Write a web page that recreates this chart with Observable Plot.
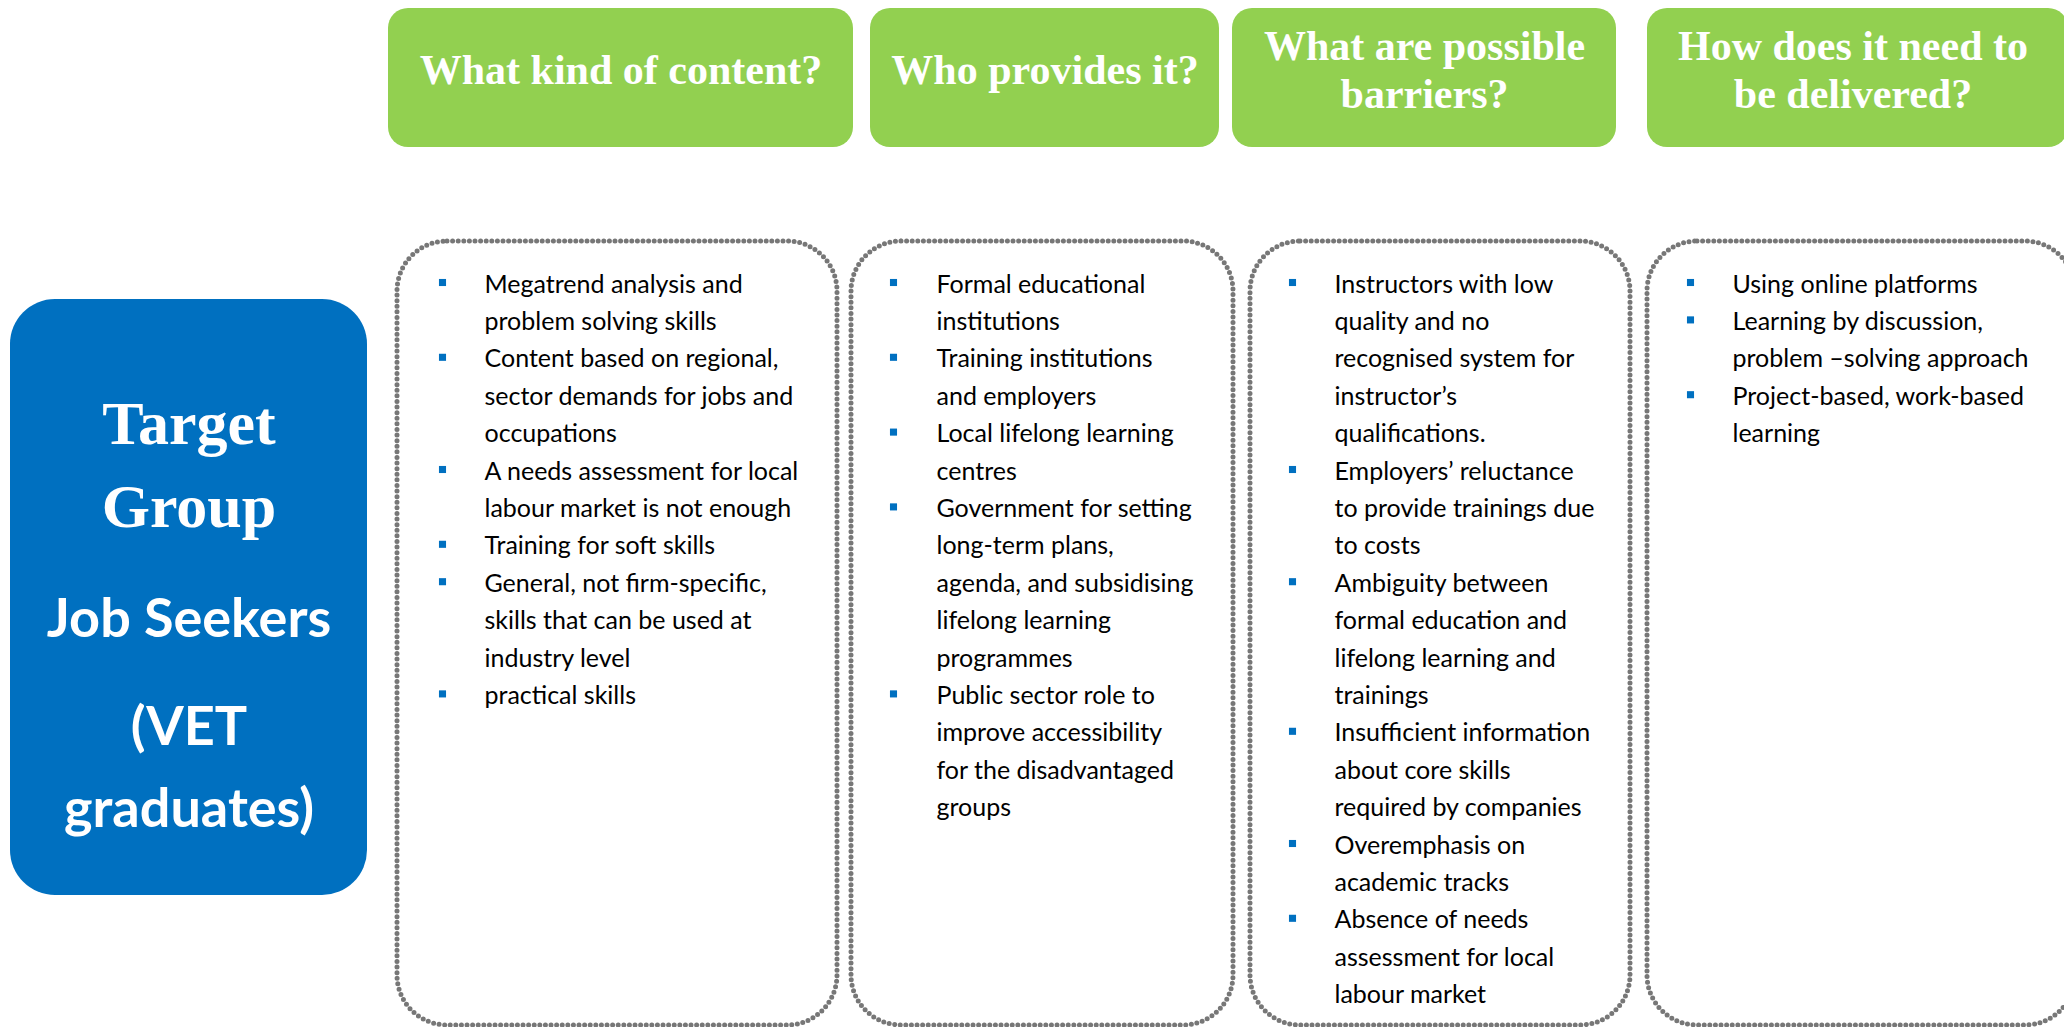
<!DOCTYPE html>
<html>
<head>
<meta charset="utf-8">
<script src="https://cdn.jsdelivr.net/npm/d3@7"></script>
<script src="https://cdn.jsdelivr.net/npm/@observablehq/plot@0.6"></script>
<style>
  html, body { margin: 0; padding: 0; background: #fff; overflow: hidden; }
  #chart svg { display: block; }
</style>
</head>
<body>
<div id="chart"></div>
<script>
// ---------- content (data) ----------
const headers = [
  "What kind of content?",
  "Who provides it?",
  "What are possible\nbarriers?",
  "How does it need to\nbe delivered?"
];
const contentItems = [
  "Megatrend analysis and\nproblem solving skills",
  "Content based on regional,\nsector demands for jobs and\noccupations",
  "A needs assessment for local\nlabour market is not enough",
  "Training for soft skills",
  "General, not firm-specific,\nskills that can be used at\nindustry level",
  "practical skills"
];
const providerItems = [
  "Formal educational\ninstitutions",
  "Training institutions\nand employers",
  "Local lifelong learning\ncentres",
  "Government for setting\nlong-term plans,\nagenda, and subsidising\nlifelong learning\nprogrammes",
  "Public sector role to\nimprove accessibility\nfor the disadvantaged\ngroups"
];
const barrierItems = [
  "Instructors with low\nquality and no\nrecognised system for\ninstructor’s\nqualifications.",
  "Employers’ reluctance\nto provide trainings due\nto costs",
  "Ambiguity between\nformal education and\nlifelong learning and\ntrainings",
  "Insufficient information\nabout core skills\nrequired by companies",
  "Overemphasis on\nacademic tracks",
  "Absence of needs\nassessment for local\nlabour market"
];
const deliveryItems = [
  "Using online platforms",
  "Learning by discussion,\nproblem –solving approach",
  "Project-based, work-based\nlearning"
];
const targetTitle = ["Target", "Group"];
const targetGroup = ["Job Seekers", "(VET", "graduates)"];

// ---------- layout ----------
const W = 2064, H = 1027;
const headX1 = [388, 870, 1232, 1647], headX2 = [853, 1219, 1616, 2068];
const headY1 = 8, headY2 = 147;
const colX1 = [397, 851, 1250, 1647], colX2 = [837, 1233, 1630, 2075];
const colY1 = 241, colY2 = 1025;
const bulletOffset = [45, 42, 42, 43], textOffset = [87, 85, 84, 85];
const blue = {x1: 10, x2: 367, y1: 299, y2: 895};
const bodySize = 25, lineGap = 37.4, firstBaseline = 292;
const headSize = 42, headGap = 48;
const titleBaselines = [443, 526];
const groupBaselines = [636, 744, 826];

const columns = [contentItems, providerItems, barrierItems, deliveryItems];

// flatten the bullet lists into text lines
const lineRows = [];
columns.forEach((items, c) => {
  let i = 0;
  items.forEach(item => {
    item.split("\n").forEach((line, j) => {
      lineRows.push({col: c, text: line, idx: i++, first: j === 0});
    });
  });
});
const bulletRows = lineRows.filter(d => d.first);

const headRows = [];
headers.forEach((h, c) => {
  const parts = h.split("\n");
  parts.forEach((p, j) => headRows.push({col: c, text: p, j, n: parts.length}));
});
const headCenter = (headY1 + headY2) / 2;

const BODY_FONT = "Lato, 'Open Sans', sans-serif";
const SERIF = "'Liberation Serif', 'DejaVu Serif', serif";

const chart = Plot.plot({
  width: W,
  height: H,
  margin: 0,
  x: {domain: [0, W], range: [0, W], axis: null},
  y: {domain: [0, H], range: [0, H], axis: null},
  marks: [
    // green header boxes
    Plot.rect(headers, {
      x1: (d, i) => headX1[i], x2: (d, i) => headX2[i],
      y1: () => headY1, y2: () => headY2,
      rx: 20, ry: 20, fill: "#92D050"
    }),
    Plot.text(headRows, {
      x: d => (headX1[d.col] + headX2[d.col]) / 2 + (d.col === 3 ? -5 : 0),
      y: d => headCenter + 6 + (d.j - (d.n - 1) / 2) * headGap,
      text: "text", dy: -0.32 * headSize,
      fontFamily: SERIF, fontWeight: "bold", fontSize: headSize, fill: "white"
    }),
    // dotted boxes
    Plot.rect(columns, {
      x1: (d, i) => colX1[i], x2: (d, i) => colX2[i],
      y1: () => colY1, y2: () => colY2,
      rx: 50, ry: 50, fill: "none",
      stroke: "#777777", strokeWidth: 5,
      strokeDasharray: "0 5.6", strokeLinecap: "round"
    }),
    // bullets
    Plot.dot(bulletRows, {
      x: d => colX1[d.col] + bulletOffset[d.col],
      y: d => firstBaseline + d.idx * lineGap - 10,
      symbol: "square", r: 4, fill: "#0070C0"
    }),
    // bullet text
    Plot.text(lineRows, {
      x: d => colX1[d.col] + textOffset[d.col],
      y: d => firstBaseline + d.idx * lineGap,
      text: "text", textAnchor: "start", dy: -0.32 * bodySize,
      fontFamily: BODY_FONT, fontSize: bodySize, fill: "#000"
    }),
    // blue target group box
    Plot.rect([blue], {
      x1: d => d.x1, x2: d => d.x2, y1: d => d.y1, y2: d => d.y2,
      rx: 45, ry: 45, fill: "#0070C0"
    }),
    Plot.text(targetTitle, {
      x: () => (blue.x1 + blue.x2) / 2,
      y: (d, i) => titleBaselines[i],
      text: d => d, dy: -0.32 * 62,
      fontFamily: SERIF, fontWeight: "bold", fontSize: 62, fill: "white"
    }),
    Plot.text(targetGroup, {
      x: () => (blue.x1 + blue.x2) / 2,
      y: (d, i) => groupBaselines[i],
      text: d => d, dy: -0.32 * 54,
      fontFamily: BODY_FONT, fontWeight: "bold", fontSize: 54, fill: "white"
    })
  ]
});
document.getElementById("chart").appendChild(chart);
</script>
</body>
</html>
